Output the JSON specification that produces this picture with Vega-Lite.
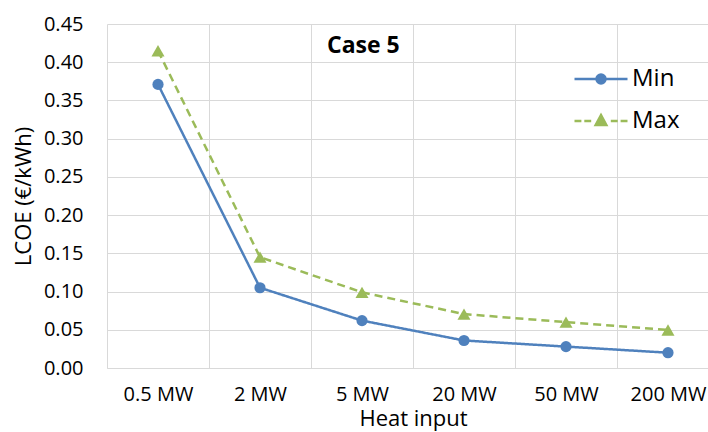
{
  "$schema": "https://vega.github.io/schema/vega-lite/v6.json",
  "width": 601,
  "height": 344,
  "autosize": {"type": "none"},
  "padding": {"left": 107, "top": 24, "right": 0, "bottom": 64},
  "background": "white",
  "config": {"view": {"stroke": null}, "font": "Open Sans"},
  "title": {"text": "Case 5", "anchor": "start", "frame": "group", "dx": 220, "offset": 0, "dy": 62, "fontSize": 23, "fontWeight": "bold", "font": "Open Sans", "color": "black", "baseline": "alphabetic"},
  "data": {"values": [
    {"input": "0.5 MW", "series": "Min", "lcoe": 0.371},
    {"input": "2 MW", "series": "Min", "lcoe": 0.105},
    {"input": "5 MW", "series": "Min", "lcoe": 0.062},
    {"input": "20 MW", "series": "Min", "lcoe": 0.036},
    {"input": "50 MW", "series": "Min", "lcoe": 0.028},
    {"input": "200 MW", "series": "Min", "lcoe": 0.020},
    {"input": "0.5 MW", "series": "Max", "lcoe": 0.415},
    {"input": "2 MW", "series": "Max", "lcoe": 0.145},
    {"input": "5 MW", "series": "Max", "lcoe": 0.099},
    {"input": "20 MW", "series": "Max", "lcoe": 0.0705},
    {"input": "50 MW", "series": "Max", "lcoe": 0.060},
    {"input": "200 MW", "series": "Max", "lcoe": 0.0497}
  ]},
  "encoding": {
    "x": {
      "field": "input", "type": "ordinal",
      "sort": ["0.5 MW", "2 MW", "5 MW", "20 MW", "50 MW", "200 MW"],
      "scale": {"type": "band", "range": [0, 612], "paddingInner": 0, "paddingOuter": 0},
      "axis": {
        "title": "Heat input", "titleFontSize": 22, "titleFont": "Open Sans", "titleColor": "black", "titleFontWeight": "normal", "titlePadding": 4,
        "labelFontSize": 20, "labelFont": "Open Sans", "labelColor": "black", "labelAngle": 0, "labelPadding": 16,
        "ticks": false, "grid": true, "gridColor": "#d9d9d9", "gridWidth": 1, "tickBand": "extent",
        "domainColor": "#d9d9d9", "domainWidth": 1
      }
    },
    "y": {
      "field": "lcoe", "type": "quantitative",
      "scale": {"domain": [0, 0.45], "nice": false},
      "axis": {
        "title": "LCOE (€/kWh)", "titleFontSize": 22, "titleFont": "Open Sans", "titleColor": "black", "titleFontWeight": "normal", "titlePadding": 8,
        "labelFontSize": 20, "labelFont": "Open Sans", "labelColor": "black", "labelPadding": 24, "format": ".2f",
        "values": [0, 0.05, 0.1, 0.15, 0.2, 0.25, 0.3, 0.35, 0.4, 0.45],
        "ticks": false, "domain": false, "grid": true, "gridColor": "#d9d9d9", "gridWidth": 1
      }
    }
  },
  "layer": [
    {
      "mark": {"type": "line", "strokeWidth": 2.5},
      "encoding": {
        "color": {"field": "series", "type": "nominal", "scale": {"domain": ["Min", "Max"], "range": ["#4f81bd", "#9bbb59"]}, "legend": null},
        "strokeDash": {"field": "series", "type": "nominal", "scale": {"domain": ["Min", "Max"], "range": [[1, 0], [8, 5]]}, "legend": null}
      }
    },
    {
      "mark": {"type": "point", "filled": true, "opacity": 1},
      "encoding": {
        "color": {"field": "series", "type": "nominal", "scale": {"domain": ["Min", "Max"], "range": ["#4f81bd", "#9bbb59"]}, "legend": null},
        "shape": {"field": "series", "type": "nominal", "scale": {"domain": ["Min", "Max"], "range": ["circle", "triangle-up"]}, "legend": null},
        "size": {"field": "series", "type": "nominal", "scale": {"domain": ["Min", "Max"], "range": [125, 170]}, "legend": null}
      }
    },
    {
      "mark": {"type": "point", "filled": true, "opacity": 0, "strokeWidth": 2.5},
      "encoding": {
        "fill": {"field": "series", "type": "nominal", "scale": {"domain": ["Min", "Max"], "range": ["#4f81bd", "#9bbb59"]},
          "legend": {"title": null, "orient": "none", "legendX": 466, "legendY": 27, "symbolSize": 2809, "symbolStrokeWidth": 2.5, "symbolOpacity": 1, "labelFontSize": 24, "labelFont": "Open Sans", "labelColor": "black", "labelOffset": 3, "rowPadding": 2}},
        "stroke": {"field": "series", "type": "nominal", "scale": {"domain": ["Min", "Max"], "range": ["#4f81bd", "#9bbb59"]},
          "legend": {"title": null, "orient": "none", "legendX": 466, "legendY": 27, "symbolSize": 2809, "symbolStrokeWidth": 2.5, "symbolOpacity": 1, "labelFontSize": 24, "labelFont": "Open Sans", "labelColor": "black", "labelOffset": 3, "rowPadding": 2}},
        "shape": {
          "field": "series", "type": "nominal",
          "scale": {"domain": ["Min", "Max"], "range": [
            "M-1,0L1,0M0.17,0A0.17,0.17,0,1,1,-0.17,0A0.17,0.17,0,1,1,0.17,0Z",
            "M-1,0L-0.74,0M-0.63,0L-0.37,0M0.37,0L0.63,0M0.74,0L1,0M0,-0.22L0.2,0.15L-0.2,0.15Z"
          ]},
          "legend": {"title": null, "orient": "none", "legendX": 466, "legendY": 27, "symbolSize": 2809, "symbolStrokeWidth": 2.5, "symbolOpacity": 1, "labelFontSize": 24, "labelFont": "Open Sans", "labelColor": "black", "labelOffset": 3, "rowPadding": 2}
        }
      }
    }
  ],
  "resolve": {"scale": {"shape": "independent", "fill": "independent", "stroke": "independent", "size": "independent"}}
}
